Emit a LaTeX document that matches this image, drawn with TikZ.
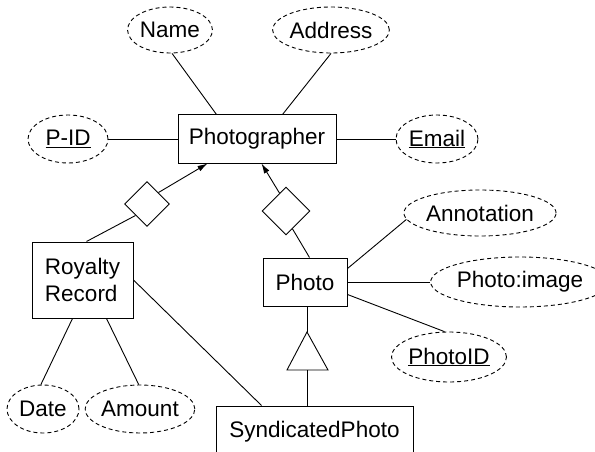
\documentclass[tikz,border=0pt]{standalone}
\usepackage{fontspec}
\setmainfont{Liberation Sans}
\usetikzlibrary{shapes.geometric,arrows.meta,calc}

\begin{document}
\begin{tikzpicture}[x=1pt,y=-1pt,
  every node/.style={font=\fontsize{22.5}{27}\selectfont, inner sep=0pt},
  entity/.style={draw, line width=1pt, rectangle},
  attr/.style={draw, ellipse, dashed, dash pattern=on 4pt off 3pt, line width=0.9pt},
  rel/.style={draw, diamond, line width=0.9pt, minimum width=#1, minimum height=#1},
  conn/.style={line width=0.9pt},
  toent/.style={conn, -{Latex[length=10pt,width=6pt]}}
]
\useasboundingbox (0,0) rectangle (595,452);
\clip (0,0) rectangle (595,452);

% entities
\node[entity, minimum width=158pt, minimum height=48pt] (ph) at (257,139) {Photographer};
\node[entity, minimum width=84pt, minimum height=48pt] (photo) at (305,282) {Photo};
\node[entity, minimum width=101pt, minimum height=76pt, align=left] (rr) at (82.5,280) {Royalty\\Record};
\node[entity, minimum width=197pt, minimum height=52pt] (synd) at (314.5,432) {SyndicatedPhoto};

% attributes
\node[attr, minimum width=84pt, minimum height=46pt] (name) at (170,30) {Name};
\node[attr, minimum width=108pt, minimum height=46pt] (addr) at (331,30) {Address};
\node[attr, minimum width=80pt, minimum height=48pt] (pid) at (68,139) {\underline{P-ID}};
\node[attr, minimum width=82pt, minimum height=48pt] (email) at (437,139) {\underline{Email}};
\node[attr, minimum width=134pt, minimum height=46pt] (ann) at (480,213) {Annotation};
\node[attr, minimum width=150pt, minimum height=50pt] (pimg) at (520,282) {Photo:image};
\node[attr, minimum width=106pt, minimum height=50pt] (photoid) at (449,357) {\underline{PhotoID}};
\node[attr, minimum width=72pt, minimum height=48pt] (date) at (43,409) {Date};
\node[attr, minimum width=104pt, minimum height=48pt] (amount) at (140,409) {Amount};

% relationships
\node[rel=45pt] (d1) at (147,204) {};
\node[rel=48pt] (d2) at (286,211) {};

% ISA triangle
\coordinate (apex) at (307,332);
\coordinate (bl) at (287,370);
\coordinate (br) at (328,370);
\coordinate (bm) at (307,370);
\draw[conn] (apex) -- (bl) -- (br) -- cycle;

% attribute links
\draw[conn] (name.-85) -- ($(ph.north west)+(39,0)$);
\draw[conn] (addr.south) -- ($(ph.north west)+(105,0)$);
\draw[conn] (pid) -- (ph);
\draw[conn] (ph) -- (email);
\draw[conn] ($(photo.north east)+(0,11)$) -- (ann.185);
\draw[conn] (photo) -- (pimg);
\draw[conn] ($(photo.north east)+(0,37)$) -- (photoid.100);
\draw[conn] ($(rr.south west)+(41,0)$) -- (date.95);
\draw[conn] ($(rr.south west)+(75,0)$) -- (amount.93);

% relationship links
\draw[toent] (d1.45) -- ($(ph.south west)+(30,0)$);
\draw[conn] (d1.225) -- ($(rr.north west)+(55,0)$);
\draw[toent] (d2.110) -- ($(ph.south west)+(84,0)$);
\draw[conn] (d2.-70) -- ($(photo.north west)+(47,0)$);
\draw[conn] (rr.east) -- ($(synd.north west)+(46,0)$);

% specialisation links
\draw[conn] (photo.south -| apex) -- (apex);
\draw[conn] (bm) -- (synd.north -| bm);
\end{tikzpicture}
\end{document}
